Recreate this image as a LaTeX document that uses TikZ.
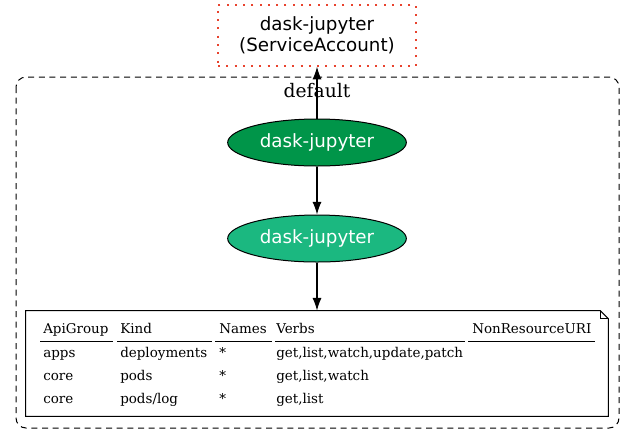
\documentclass[tikz,border=0pt]{standalone}
\usepackage{fontspec}
\setmainfont{DejaVu Serif}
\setsansfont{DejaVu Sans}
\usepackage{xcolor}
\usetikzlibrary{shapes,arrows.meta,positioning,calc}

\definecolor{bindgreen}{HTML}{009549}
\definecolor{rolegreen}{HTML}{1BB880}
\definecolor{sared}{HTML}{E8432E}

\tikzset{
  kobj/.style={ellipse,draw,fill=#1,text=white,minimum width=134pt,minimum height=35.25pt,
    inner sep=0pt,line width=0.75pt,font=\sffamily\fontsize{13.7}{16}\selectfont},
  link/.style={-{Latex[length=9.5pt,width=6.8pt]},line width=0.8pt},
  cell/.style={anchor=base west,inner sep=0pt,font=\fontsize{10.1}{12}\selectfont},
}

\begin{document}
\begin{tikzpicture}[x=0.75pt,y=-0.75pt]
\useasboundingbox (0,0) rectangle (635,444);
% Namespace
\draw[line width=0.75pt,dash pattern=on 4.5pt off 3.5pt,rounded corners=7.5pt] (16,77) rectangle (619,428);
\node[anchor=base,inner sep=0pt,font=\fontsize{14}{16}\selectfont] (nslabel) at (317,97) {default};
% Service account
\node[draw=sared,line width=1.1pt,dash pattern=on 1.5pt off 4.7pt,minimum width=148.5pt,minimum height=45.75pt,
  align=center,font=\sffamily\fontsize{13.7}{15.75}\selectfont] (sa) at (317,35.5) {dask-jupyter\\(ServiceAccount)};
% Binding and role
\node[kobj=bindgreen] (binding) at (317,142.5) {dask-jupyter};
\node[kobj=rolegreen] (role) at (317,238.5) {dask-jupyter};
% Rules note
\node[minimum width=436.5pt,minimum height=79pt,inner sep=0pt] (note) at (317,363.5) {};
\draw[line width=0.75pt] (note.south west) -- (note.north west) -- ($(note.north east)+(-8,0)$)
  -- ($(note.north east)+(0,8)$) -- (note.south east) -- cycle;
\draw[line width=0.75pt] ($(note.north east)+(-8,0)$) -- ($(note.north east)+(-8,8)$) -- ($(note.north east)+(0,8)$);
% Arrows
\draw[link] (binding) -- (sa);
\draw[link] (binding) -- (role);
\draw[link] (role) -- (note.north);
% Table header
\node[cell] (hgroup) at (43,333) {ApiGroup};
\node[cell] (hkind) at (120,333) {Kind};
\node[cell] (hnames) at (219,333) {Names};
\node[cell] (hverbs) at (276,333) {Verbs};
\node[cell] (huri) at (472,333) {NonResourceURI};
\foreach \a/\b in {40/113,117/212,215/272,275/465,468/595}
  \draw[line width=0.75pt] (\a,341) -- (\b,341);
% Table rows
\node[cell] (g1) at (43,357) {apps};
\node[cell] (k1) at (120,357) {deployments};
\node[cell] (n1) at (219,357) {*};
\node[cell] (v1) at (276,357) {get,list,watch,update,patch};
\node[cell] (g2) at (43,380.5) {core};
\node[cell] (k2) at (120,380.5) {pods};
\node[cell] (n2) at (219,380.5) {*};
\node[cell] (v2) at (276,380.5) {get,list,watch};
\node[cell] (g3) at (43,403.5) {core};
\node[cell] (k3) at (120,403.5) {pods/log};
\node[cell] (n3) at (219,403.5) {*};
\node[cell] (v3) at (276,403.5) {get,list};
\end{tikzpicture}
\end{document}
